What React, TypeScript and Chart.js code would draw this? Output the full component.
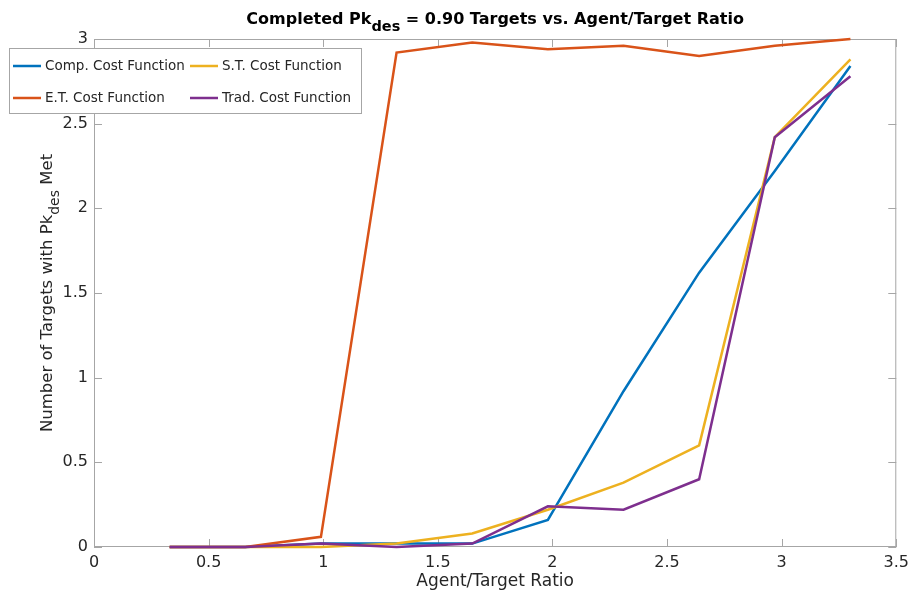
import React, { useEffect, useRef } from "react";
import { Chart, registerables } from "chart.js";

Chart.register(...registerables);

// Agent/target ratios at which each cost function was evaluated
const ratios = [0.33, 0.66, 0.99, 1.32, 1.65, 1.98, 2.31, 2.64, 2.97, 3.3];

// Number of targets reaching the desired Pk, per cost function
const compCost = [0, 0, 0.02, 0.02, 0.02, 0.16, 0.92, 1.62, 2.22, 2.84];
const stCost = [0, 0, 0, 0.02, 0.08, 0.22, 0.38, 0.6, 2.42, 2.88];
const etCost = [0, 0, 0.06, 2.92, 2.98, 2.94, 2.96, 2.9, 2.96, 3.0];
const tradCost = [0, 0, 0.02, 0, 0.02, 0.24, 0.22, 0.4, 2.42, 2.78];

const seriesNames = [
  "Comp. Cost Function",
  "S.T. Cost Function",
  "E.T. Cost Function",
  "Trad. Cost Function",
];
const seriesValues = [compCost, stCost, etCost, tradCost];
const seriesColors = ["#0072BD", "#EDB120", "#D95319", "#7E2F8E"];

const xTicks = [0, 0.5, 1, 1.5, 2, 2.5, 3, 3.5];
const yTicks = [0, 0.5, 1, 1.5, 2, 2.5, 3];

const FONT = "'DejaVu Sans', sans-serif";
const AXIS_GRAY = "#a6a6a6";
const TEXT_DARK = "#262626";

type Part = { text: string; sub?: boolean };

// Draws a run of text with optional subscript pieces, centred on (x, y)
function drawRich(
  ctx: CanvasRenderingContext2D,
  parts: Part[],
  x: number,
  y: number,
  size: number,
  subSize: number,
  subDrop: number,
  weight: string,
  color: string
) {
  const fontFor = (p: Part) => `${weight} ${p.sub ? subSize : size}px ${FONT}`;
  let total = 0;
  const widths = parts.map((p) => {
    ctx.font = fontFor(p);
    const w = ctx.measureText(p.text).width;
    total += w;
    return w;
  });
  let cx = x - total / 2;
  ctx.fillStyle = color;
  ctx.textBaseline = "alphabetic";
  ctx.textAlign = "left";
  parts.forEach((p, i) => {
    ctx.font = fontFor(p);
    ctx.fillText(p.text, cx, p.sub ? y + subDrop : y);
    cx += widths[i];
  });
}

const decorPlugin = {
  id: "decor",
  beforeDatasetsDraw(chart: any) {
    const { ctx, chartArea } = chart;
    const { left, right, top, bottom } = chartArea;
    const xs = chart.scales.x;
    const ys = chart.scales.y;
    ctx.save();
    ctx.strokeStyle = AXIS_GRAY;
    ctx.lineWidth = 1;
    ctx.strokeRect(left + 0.5, top + 0.5, right - left - 1, bottom - top - 1);
    const tl = 8;
    ctx.beginPath();
    xTicks.forEach((v) => {
      const px = Math.round(xs.getPixelForValue(v)) + 0.5;
      ctx.moveTo(px, bottom);
      ctx.lineTo(px, bottom - tl);
      ctx.moveTo(px, top);
      ctx.lineTo(px, top + tl);
    });
    yTicks.forEach((v) => {
      const py = Math.round(ys.getPixelForValue(v)) + 0.5;
      ctx.moveTo(left, py);
      ctx.lineTo(left + tl, py);
      ctx.moveTo(right, py);
      ctx.lineTo(right - tl, py);
    });
    ctx.stroke();
    ctx.restore();
  },
  afterDraw(chart: any) {
    const { ctx, chartArea } = chart;
    const { left, right, top, bottom } = chartArea;
    const midX = (left + right) / 2;
    const midY = (top + bottom) / 2;
    ctx.save();

    // Title
    drawRich(
      ctx,
      [
        { text: "Completed Pk" },
        { text: "des", sub: true },
        { text: " = 0.90 Targets vs. Agent/Target Ratio" },
      ],
      midX,
      24,
      16,
      14.5,
      6.5,
      "bold",
      "#000"
    );

    // X axis title
    drawRich(ctx, [{ text: "Agent/Target Ratio" }], midX, 586, 17, 17, 0, "normal", TEXT_DARK);

    // Y axis title, rotated
    ctx.save();
    ctx.translate(52, midY);
    ctx.rotate(-Math.PI / 2);
    drawRich(
      ctx,
      [
        { text: "Number of Targets with Pk" },
        { text: "des", sub: true },
        { text: " Met" },
      ],
      0,
      0,
      16.5,
      14,
      6.5,
      "normal",
      TEXT_DARK
    );
    ctx.restore();

    // Legend box
    const lx = 9;
    const ly = 48;
    const lw = 352;
    const lh = 65;
    ctx.fillStyle = "#fff";
    ctx.fillRect(lx, ly, lw, lh);
    ctx.strokeStyle = AXIS_GRAY;
    ctx.lineWidth = 1;
    ctx.strokeRect(lx + 0.5, ly + 0.5, lw, lh);
    const colX = [13, 190];
    const rowY = [66, 98];
    seriesNames.forEach((name, i) => {
      const cx = colX[i % 2];
      const cy = rowY[Math.floor(i / 2)];
      ctx.strokeStyle = seriesColors[i];
      ctx.lineWidth = 2.5;
      ctx.beginPath();
      ctx.moveTo(cx, cy);
      ctx.lineTo(cx + 28, cy);
      ctx.stroke();
      ctx.font = `13.5px ${FONT}`;
      ctx.fillStyle = TEXT_DARK;
      ctx.textAlign = "left";
      ctx.textBaseline = "middle";
      ctx.fillText(name, cx + 32, cy);
    });
    ctx.restore();
  },
};

export default function App() {
  const canvasRef = useRef<HTMLCanvasElement | null>(null);

  useEffect(() => {
    document.body.style.margin = "0";
    const canvas = canvasRef.current;
    if (!canvas) return;
    const chart = new Chart(canvas, {
      type: "line",
      data: {
        datasets: seriesValues.map((vals, i) => ({
          label: seriesNames[i],
          data: ratios.map((r, j) => ({ x: r, y: vals[j] })),
          borderColor: seriesColors[i],
          backgroundColor: seriesColors[i],
          borderWidth: 2.5,
          pointRadius: 0,
          tension: 0,
          fill: false,
          clip: false as any,
          order: seriesValues.length - i,
        })),
      },
      options: {
        animation: false,
        responsive: false,
        maintainAspectRatio: false,
        layout: { padding: { top: 39, right: 17, left: 0, bottom: 0 } },
        plugins: {
          legend: { display: false },
          title: { display: false },
          tooltip: { enabled: false },
        },
        scales: {
          x: {
            type: "linear",
            min: 0,
            max: 3.5,
            grid: { display: false, drawTicks: false },
            border: { display: false },
            afterBuildTicks: (s: any) => {
              s.ticks = xTicks.map((v) => ({ value: v }));
            },
            afterFit: (s: any) => {
              s.height = 49;
            },
            ticks: {
              padding: 6,
              color: TEXT_DARK,
              font: { family: FONT, size: 16 },
              maxRotation: 0,
              autoSkip: false,
              callback: (v: any) => String(v),
            },
          },
          y: {
            type: "linear",
            min: 0,
            max: 3,
            grid: { display: false, drawTicks: false },
            border: { display: false },
            afterBuildTicks: (s: any) => {
              s.ticks = yTicks.map((v) => ({ value: v }));
            },
            afterFit: (s: any) => {
              s.width = 94;
            },
            ticks: {
              padding: 6,
              color: TEXT_DARK,
              font: { family: FONT, size: 16 },
              autoSkip: false,
              callback: (v: any) => String(v),
            },
          },
        },
      },
      plugins: [decorPlugin],
    });
    return () => chart.destroy();
  }, []);

  return (
    <div style={{ width: 915, height: 596, background: "#fff" }}>
      <canvas ref={canvasRef} width={915} height={596} />
    </div>
  );
}
